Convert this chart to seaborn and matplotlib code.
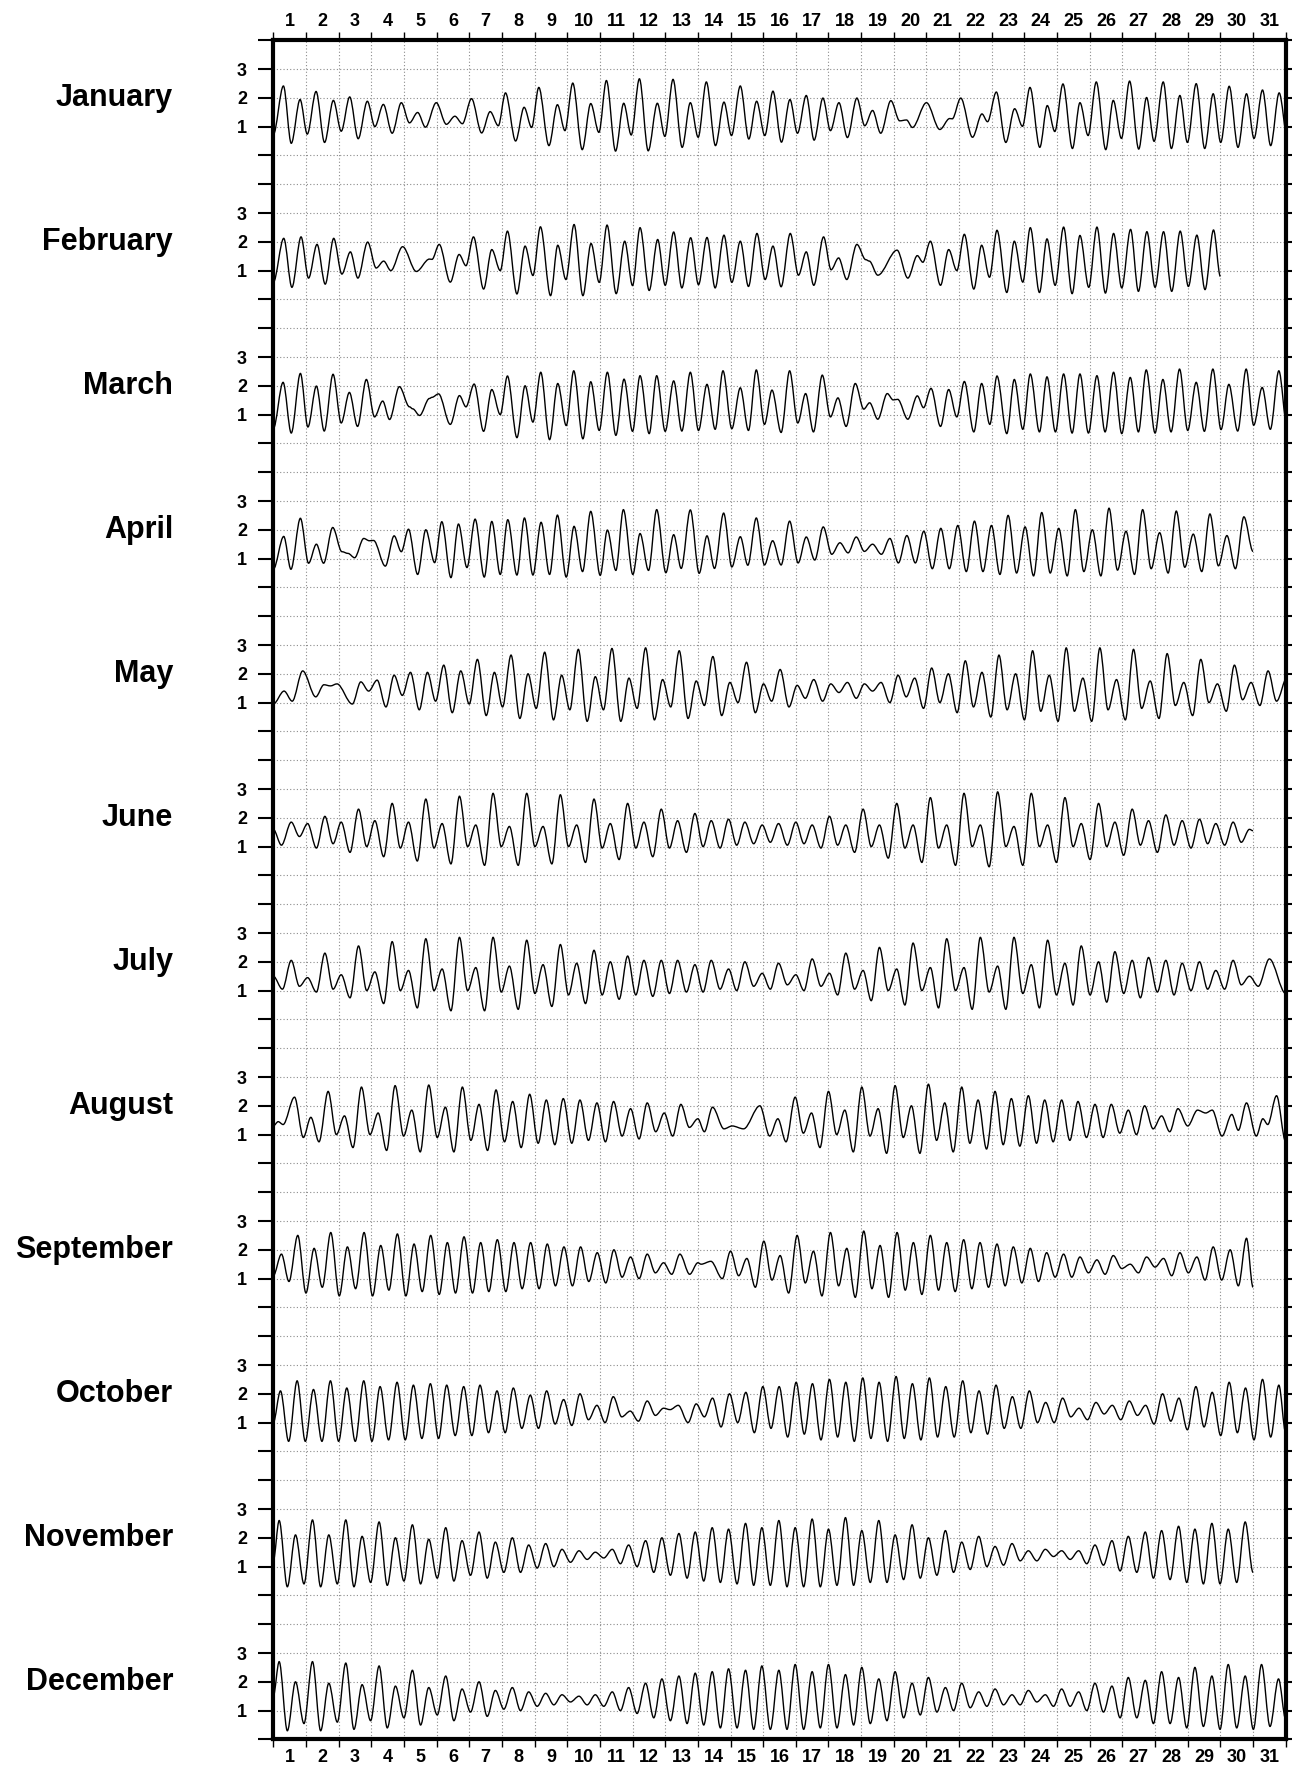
import numpy as np
import matplotlib
matplotlib.use("Agg")
import matplotlib.pyplot as plt
from matplotlib.path import Path
from matplotlib.patches import PathPatch
import matplotlib.transforms as mtransforms
import seaborn as sns

months = ["January", "February", "March", "April", "May", "June",
          "July", "August", "September", "October", "November", "December"]

# tide extremes: time (days from month start), height
jan_t = [0.00, 0.31, 0.55, 0.82, 1.04, 1.31, 1.57, 1.84, 2.08, 2.34, 2.60,
         2.88, 3.11, 3.37, 3.64, 3.92, 4.17, 4.42, 4.66, 4.99, 5.30,
         5.56, 5.79, 6.07, 6.38, 6.64, 6.89, 7.11, 7.42, 7.68, 7.91,
         8.13, 8.44, 8.70, 8.93, 9.17, 9.46, 9.72, 9.97, 10.20, 10.48,
         10.73, 10.96, 11.21, 11.48, 11.76, 11.99, 12.24, 12.52, 12.77, 13.01,
         13.26, 13.54, 13.80, 14.03, 14.30, 14.56, 14.80, 15.05, 15.30, 15.56,
         15.82, 16.05, 16.32, 16.56, 16.83, 17.06, 17.32, 17.58, 17.87, 18.11,
         18.35, 18.60, 18.91, 19.18, 19.39, 19.57, 20.00, 20.41, 20.71, 20.79,
         21.05, 21.41, 21.70, 21.87, 22.14, 22.43, 22.70, 22.94, 23.17, 23.47,
         23.70, 23.93, 24.18, 24.47, 24.70, 24.95, 25.20, 25.49, 25.72, 25.97,
         26.22, 26.50, 26.74, 26.97, 27.25, 27.50, 27.76, 27.99, 28.26, 28.52,
         28.78, 29.01, 29.27, 29.54, 29.80, 30.03, 30.29, 30.54, 30.80, 31.06]
jan_h = [0.72, 2.41, 0.42, 1.94, 0.74, 2.22, 0.45, 1.91, 0.84, 2.03, 0.58,
         1.88, 1.00, 1.77, 0.77, 1.83, 1.13, 1.49, 0.98, 1.83, 1.08,
         1.36, 1.10, 1.97, 0.78, 1.52, 1.03, 2.17, 0.50, 1.67, 0.97,
         2.36, 0.34, 1.76, 0.86, 2.51, 0.20, 1.80, 0.80, 2.60, 0.15,
         1.81, 0.71, 2.66, 0.16, 1.81, 0.66, 2.64, 0.28, 1.83, 0.63,
         2.55, 0.34, 1.85, 0.69, 2.41, 0.57, 1.88, 0.69, 2.23, 0.46,
         1.94, 0.77, 2.08, 0.53, 1.99, 0.86, 1.83, 0.62, 1.99, 1.03,
         1.56, 0.77, 1.90, 1.20, 1.23, 0.97, 1.83, 0.90, 1.28, 1.27,
         1.99, 0.63, 1.44, 1.17, 2.20, 0.45, 1.62, 1.01, 2.36, 0.28,
         1.73, 0.83, 2.48, 0.24, 1.83, 0.69, 2.55, 0.20, 1.91, 0.59,
         2.58, 0.22, 2.01, 0.49, 2.55, 0.24, 2.08, 0.45, 2.49, 0.24,
         2.14, 0.45, 2.40, 0.28, 2.14, 0.59, 2.27, 0.34, 2.17, 0.55]

feb_t = [0.00, 0.32, 0.57, 0.85, 1.08, 1.34, 1.59, 1.85, 2.10, 2.36, 2.59,
         2.89, 3.15, 3.38, 3.60, 3.96, 4.38, 4.78, 4.86, 5.08, 5.42,
         5.69, 5.90, 6.13, 6.44, 6.69, 6.95, 7.17, 7.46, 7.71, 7.95,
         8.18, 8.49, 8.71, 8.96, 9.21, 9.48, 9.73, 9.98, 10.22, 10.50,
         10.76, 11.00, 11.23, 11.51, 11.77, 12.00, 12.26, 12.51, 12.78, 13.02,
         13.28, 13.53, 13.80, 14.04, 14.30, 14.55, 14.81, 15.06, 15.30, 15.55,
         15.83, 16.08, 16.32, 16.55, 16.85, 17.08, 17.31, 17.56, 17.87, 18.14,
         18.25, 18.51, 19.10, 19.43, 19.72, 19.89, 20.12, 20.43, 20.68, 20.93,
         21.16, 21.45, 21.69, 21.93, 22.16, 22.46, 22.69, 22.95, 23.18, 23.46,
         23.69, 23.94, 24.20, 24.46, 24.70, 24.97, 25.22, 25.48, 25.73, 25.98,
         26.25, 26.49, 26.75, 27.00, 27.26, 27.51, 27.77, 28.02, 28.28, 28.53,
         28.79, 29.00]
feb_h = [0.59, 2.12, 0.42, 2.17, 0.74, 1.91, 0.53, 2.12, 0.88, 1.65, 0.74,
         1.99, 1.09, 1.33, 1.00, 1.83, 0.97, 1.40, 1.39, 1.91, 0.60,
         1.56, 1.17, 2.17, 0.36, 1.73, 1.00, 2.37, 0.19, 1.85, 0.83,
         2.52, 0.13, 1.88, 0.69, 2.60, 0.13, 1.94, 0.59, 2.58, 0.20,
         2.02, 0.48, 2.49, 0.31, 2.08, 0.49, 2.34, 0.40, 2.14, 0.51,
         2.15, 0.40, 2.23, 0.59, 2.02, 0.45, 2.29, 0.69, 1.85, 0.44,
         2.29, 0.84, 1.65, 0.49, 2.17, 1.03, 1.44, 0.69, 1.91, 1.38,
         1.33, 0.84, 1.71, 0.74, 1.52, 1.29, 2.02, 0.49, 1.73, 1.00,
         2.26, 0.36, 1.88, 0.77, 2.40, 0.24, 2.02, 0.60, 2.49, 0.24,
         2.10, 0.49, 2.51, 0.20, 2.22, 0.42, 2.51, 0.22, 2.29, 0.40,
         2.43, 0.28, 2.35, 0.42, 2.35, 0.28, 2.37, 0.45, 2.23, 0.34,
         2.41, 0.80]

mar_t = [0.00, 0.30, 0.55, 0.83, 1.06, 1.32, 1.56, 1.83, 2.08, 2.33, 2.58,
         2.85, 3.10, 3.35, 3.56, 3.86, 4.17, 4.27, 4.48, 4.78, 4.86,
         5.06, 5.42, 5.70, 5.90, 6.15, 6.44, 6.69, 6.95, 7.17, 7.46,
         7.71, 7.95, 8.19, 8.46, 8.71, 8.97, 9.20, 9.48, 9.72, 9.98,
         10.23, 10.49, 10.74, 11.00, 11.23, 11.51, 11.74, 12.00, 12.26, 12.51,
         12.77, 13.02, 13.28, 13.53, 13.77, 14.04, 14.30, 14.55, 14.79, 15.04,
         15.27, 15.55, 15.81, 16.06, 16.30, 16.54, 16.81, 17.06, 17.29, 17.54,
         17.82, 18.08, 18.26, 18.51, 18.80, 18.98, 19.12, 19.43, 19.72, 19.91,
         20.14, 20.43, 20.68, 20.93, 21.16, 21.45, 21.69, 21.94, 22.16, 22.46,
         22.69, 22.95, 23.18, 23.46, 23.69, 23.95, 24.20, 24.46, 24.70, 24.96,
         25.22, 25.47, 25.73, 25.98, 26.24, 26.49, 26.73, 27.00, 27.24, 27.49,
         27.75, 28.00, 28.26, 28.51, 28.77, 29.02, 29.26, 29.53, 29.79, 30.02,
         30.28, 30.53, 30.79, 31.04]
mar_h = [0.51, 2.12, 0.36, 2.43, 0.57, 1.99, 0.43, 2.40, 0.71, 1.77, 0.59,
         2.22, 0.92, 1.47, 0.83, 1.97, 1.27, 1.20, 0.97, 1.56, 1.60,
         1.72, 0.66, 1.66, 1.27, 2.06, 0.42, 1.87, 1.00, 2.34, 0.20,
         2.00, 0.74, 2.47, 0.13, 2.08, 0.62, 2.52, 0.16, 2.14, 0.45,
         2.47, 0.28, 2.23, 0.42, 2.35, 0.34, 2.35, 0.42, 2.17, 0.43,
         2.47, 0.45, 2.05, 0.49, 2.52, 0.51, 1.93, 0.45, 2.55, 0.66,
         1.85, 0.38, 2.52, 0.71, 1.73, 0.40, 2.37, 0.92, 1.58, 0.59,
         2.08, 1.19, 1.41, 0.84, 1.73, 1.51, 1.53, 0.84, 1.65, 1.24,
         1.91, 0.59, 1.87, 0.92, 2.15, 0.40, 2.08, 0.66, 2.34, 0.34,
         2.22, 0.49, 2.41, 0.40, 2.31, 0.40, 2.41, 0.36, 2.41, 0.36,
         2.35, 0.40, 2.47, 0.34, 2.29, 0.40, 2.55, 0.36, 2.22, 0.40,
         2.58, 0.45, 2.12, 0.42, 2.58, 0.48, 2.05, 0.43, 2.58, 0.63,
         1.94, 0.49, 2.52, 0.60]

apr_t = [0.00, 0.32, 0.54, 0.83, 1.08, 1.32, 1.54, 1.82, 2.10, 2.29, 2.49,
         2.77, 2.94, 3.07, 3.43, 3.70, 3.92, 4.14, 4.42, 4.67, 4.94,
         5.16, 5.44, 5.67, 5.93, 6.18, 6.46, 6.69, 6.95, 7.18, 7.46,
         7.69, 7.95, 8.20, 8.46, 8.70, 8.97, 9.21, 9.47, 9.72, 10.01,
         10.23, 10.49, 10.72, 11.01, 11.23, 11.49, 11.74, 12.02, 12.26, 12.49,
         12.77, 13.04, 13.28, 13.51, 13.79, 14.04, 14.30, 14.53, 14.79, 15.04,
         15.29, 15.55,
         15.81, 16.07, 16.32, 16.58, 16.84, 17.10, 17.35, 17.60, 17.85, 18.10,
         18.35, 18.62, 18.88, 19.14, 19.40, 19.66, 19.92, 20.18, 20.44, 20.70,
         20.96, 21.22, 21.47, 21.73, 21.99, 22.25, 22.50, 22.76, 23.02, 23.28,
         23.53, 23.79, 24.05, 24.31, 24.56, 24.82, 25.08, 25.34, 25.59, 25.85,
         26.11, 26.37, 26.62, 26.88, 27.14, 27.40, 27.65, 27.91, 28.17, 28.43,
         28.68, 28.94, 29.20, 29.46, 29.72, 30.00]
apr_h = [0.63, 1.77, 0.63, 2.40, 0.84, 1.50, 0.84, 2.08, 1.24, 1.18, 1.03,
         1.70, 1.62, 1.63, 0.74, 1.79, 1.24, 2.02, 0.45, 2.00, 0.86,
         2.28, 0.34, 2.20, 0.69, 2.37, 0.36, 2.29, 0.45, 2.35, 0.43,
         2.41, 0.43, 2.26, 0.45, 2.51, 0.36, 2.12, 0.55, 2.64, 0.42,
         1.99, 0.59, 2.70, 0.45, 1.87, 0.59, 2.70, 0.51, 1.83, 0.66,
         2.69, 0.49, 1.79, 0.66, 2.58, 0.71, 1.76, 0.77, 2.41, 0.78,
         1.62, 0.78,
         2.30, 0.85, 1.75, 0.95, 2.10, 1.15, 1.55, 1.20, 1.75, 1.25,
         1.50, 1.15, 1.70, 0.85, 1.80, 0.85, 1.95, 0.65, 2.05, 0.65,
         2.15, 0.55, 2.30, 0.55, 2.15, 0.45, 2.50, 0.50, 2.10, 0.40,
         2.60, 0.50, 2.05, 0.40, 2.70, 0.55, 2.00, 0.40, 2.75, 0.60,
         1.95, 0.45, 2.70, 0.65, 1.90, 0.50, 2.65, 0.70, 1.85, 0.55,
         2.55, 0.75, 1.80, 0.65, 2.45, 1.25]

may_t = [0.00, 0.33, 0.58, 0.90, 1.30, 1.55, 1.75, 1.95, 2.42, 2.68,
         2.92, 3.18, 3.45, 3.70, 3.95, 4.20, 4.47, 4.72, 4.97, 5.22,
         5.48, 5.74, 6.00, 6.25, 6.52, 6.77, 7.02, 7.28, 7.55, 7.80,
         8.05, 8.31, 8.58, 8.83, 9.08, 9.34, 9.61, 9.86, 10.11, 10.37,
         10.64, 10.89, 11.14, 11.40, 11.67, 11.92, 12.17, 12.43, 12.70, 12.95,
         13.20, 13.46, 13.73, 13.98, 14.23, 14.49, 14.76, 15.01, 15.26, 15.52,
         15.79, 16.04, 16.29, 16.55, 16.82, 17.07, 17.32, 17.58, 17.85, 18.10,
         18.35, 18.61, 18.88, 19.13, 19.38, 19.64, 19.91, 20.16, 20.41, 20.67,
         20.94, 21.19, 21.44, 21.70, 21.97, 22.22, 22.47, 22.73, 23.00, 23.25,
         23.50, 23.76, 24.03, 24.28, 24.53, 24.79, 25.06, 25.31, 25.56, 25.82,
         26.09, 26.34, 26.59, 26.85, 27.12, 27.37, 27.62, 27.88, 28.15, 28.40,
         28.65, 28.91, 29.18, 29.43, 29.68, 29.94, 30.21, 30.46, 30.72, 31.05]
may_h = [0.95, 1.40, 1.05, 2.10, 1.20, 1.62, 1.58, 1.65, 0.95, 1.72,
         1.40, 1.78, 0.85, 1.95, 1.25, 2.05, 0.75, 2.05, 1.05, 2.30,
         0.65, 2.10, 0.95, 2.50, 0.55, 2.05, 0.85, 2.65, 0.45, 2.00,
         0.80, 2.75, 0.40, 1.95, 0.75, 2.85, 0.35, 1.90, 0.75, 2.88,
         0.35, 1.85, 0.80, 2.90, 0.40, 1.80, 0.85, 2.80, 0.45, 1.75,
         0.90, 2.60, 0.55, 1.70, 1.00, 2.40, 0.65, 1.65, 1.05, 2.15,
         0.85, 1.60, 1.15, 1.80, 1.05, 1.65, 1.35, 1.70, 1.15, 1.65,
         1.40, 1.70, 1.00, 1.95, 1.20, 1.85, 0.80, 2.20, 1.00, 2.00,
         0.65, 2.45, 0.85, 2.05, 0.50, 2.65, 0.75, 2.00, 0.40, 2.80,
         0.70, 1.95, 0.35, 2.90, 0.70, 1.85, 0.35, 2.90, 0.75, 1.80,
         0.40, 2.85, 0.80, 1.75, 0.45, 2.70, 0.90, 1.70, 0.55, 2.50,
         1.00, 1.65, 0.70, 2.30, 1.10, 1.70, 0.90, 2.10, 1.05, 1.90]

jun_t = [0.00, 0.25, 0.55, 0.80, 1.05, 1.32, 1.58, 1.83, 2.08, 2.35,
         2.61, 2.86, 3.11, 3.38, 3.64, 3.89, 4.14, 4.41, 4.67, 4.92,
         5.17, 5.44, 5.70, 5.95, 6.20, 6.47, 6.73, 6.98, 7.23, 7.50,
         7.76, 8.01, 8.26, 8.53, 8.79, 9.04, 9.29, 9.56, 9.82, 10.07,
         10.32, 10.59, 10.85, 11.10, 11.35, 11.62, 11.88, 12.13, 12.38, 12.65,
         12.91, 13.16, 13.41, 13.68, 13.94, 14.19, 14.44, 14.71, 14.97, 15.22,
         15.47, 15.74, 16.00, 16.25, 16.50, 16.77, 17.03, 17.28, 17.53, 17.80,
         18.06, 18.31, 18.56, 18.83, 19.09, 19.34, 19.59, 19.86, 20.12, 20.37,
         20.62, 20.89, 21.15, 21.40, 21.65, 21.92, 22.18, 22.43, 22.68, 22.95,
         23.21, 23.46, 23.71, 23.98, 24.24, 24.49, 24.74, 25.01, 25.27, 25.52,
         25.77, 26.04, 26.30, 26.55, 26.80, 27.07, 27.33, 27.58, 27.83, 28.10,
         28.36, 28.61, 28.86, 29.13, 29.39, 29.64, 29.89, 30.00]
jun_h = [1.60, 1.05, 1.85, 1.35, 1.80, 0.95, 2.05, 1.10, 1.85, 0.80,
         2.30, 1.00, 1.90, 0.65, 2.50, 0.95, 1.85, 0.50, 2.65, 0.95,
         1.80, 0.40, 2.75, 1.00, 1.75, 0.35, 2.85, 1.00, 1.70, 0.35,
         2.85, 1.00, 1.70, 0.40, 2.80, 1.00, 1.75, 0.45, 2.65, 0.95,
         1.80, 0.55, 2.50, 0.95, 1.85, 0.65, 2.30, 0.95, 1.90, 0.80,
         2.15, 1.00, 1.90, 0.95, 1.95, 1.05, 1.85, 1.10, 1.75, 1.15,
         1.80, 1.05, 1.85, 1.10, 1.75, 0.95, 2.05, 1.05, 1.75, 0.80,
         2.30, 1.00, 1.75, 0.60, 2.50, 0.95, 1.75, 0.45, 2.70, 0.95,
         1.75, 0.35, 2.85, 1.00, 1.75, 0.30, 2.90, 1.00, 1.70, 0.35,
         2.85, 1.00, 1.75, 0.45, 2.70, 1.00, 1.80, 0.55, 2.50, 1.00,
         1.85, 0.70, 2.30, 1.05, 1.90, 0.80, 2.10, 1.05, 1.90, 0.95,
         1.95, 1.10, 1.80, 1.05, 1.85, 1.15, 1.60, 1.55]

jul_t = [0.00, 0.28, 0.55, 0.80, 1.05, 1.32, 1.58, 1.83, 2.08, 2.35,
         2.61, 2.86, 3.11, 3.38, 3.64, 3.89, 4.14, 4.41, 4.67, 4.92,
         5.17, 5.44, 5.70, 5.95, 6.20, 6.47, 6.73, 6.98, 7.23, 7.50,
         7.76, 8.01, 8.26, 8.53, 8.79, 9.04, 9.29, 9.56, 9.82, 10.07,
         10.32, 10.59, 10.85, 11.10, 11.35, 11.62, 11.88, 12.13, 12.38, 12.65,
         12.91, 13.16, 13.41, 13.68, 13.94, 14.19, 14.44, 14.71, 14.97, 15.22,
         15.47, 15.74, 16.00, 16.25, 16.50, 16.77, 17.03, 17.28, 17.53, 17.80,
         18.06, 18.31, 18.56, 18.83, 19.09, 19.34, 19.59, 19.86, 20.12, 20.37,
         20.62, 20.89, 21.15, 21.40, 21.65, 21.92, 22.18, 22.43, 22.68, 22.95,
         23.21, 23.46, 23.71, 23.98, 24.24, 24.49, 24.74, 25.01, 25.27, 25.52,
         25.77, 26.04, 26.30, 26.55, 26.80, 27.07, 27.33, 27.58, 27.83, 28.10,
         28.36, 28.61, 28.86, 29.13, 29.39, 29.64, 29.89, 30.16, 30.50, 31.00]
jul_h = [1.50, 1.05, 2.05, 1.15, 1.45, 0.95, 2.30, 1.05, 1.55, 0.75,
         2.55, 1.00, 1.65, 0.55, 2.70, 1.00, 1.70, 0.40, 2.80, 1.00,
         1.75, 0.30, 2.85, 1.00, 1.80, 0.30, 2.85, 0.95, 1.85, 0.35,
         2.75, 0.90, 1.90, 0.45, 2.60, 0.85, 1.95, 0.55, 2.40, 0.85,
         2.00, 0.70, 2.20, 0.85, 2.05, 0.80, 2.05, 0.90, 2.05, 0.95,
         1.90, 0.95, 2.05, 1.05, 1.75, 1.00, 2.00, 1.15, 1.60, 1.05,
         1.95, 1.20, 1.55, 1.00, 2.10, 1.15, 1.60, 0.85, 2.30, 1.05,
         1.70, 0.65, 2.50, 1.00, 1.75, 0.50, 2.65, 1.00, 1.80, 0.40,
         2.80, 1.00, 1.80, 0.35, 2.85, 0.95, 1.85, 0.35, 2.85, 0.90,
         1.90, 0.40, 2.75, 0.85, 1.95, 0.50, 2.55, 0.85, 2.00, 0.60,
         2.35, 0.90, 2.05, 0.75, 2.15, 0.95, 2.05, 0.85, 1.95, 1.00,
         2.00, 1.05, 1.70, 1.05, 2.05, 1.20, 1.50, 1.15, 2.10, 0.90]

aug_t = [0.00, 0.15, 0.30, 0.65, 0.92, 1.15, 1.40, 1.68, 1.93, 2.18,
         2.44, 2.70, 2.96, 3.21, 3.47, 3.73, 3.99, 4.24, 4.50, 4.76,
         5.02, 5.27, 5.53, 5.79, 6.05, 6.30, 6.56, 6.82, 7.08, 7.33,
         7.59, 7.85, 8.11, 8.36, 8.62, 8.88, 9.14, 9.39, 9.65, 9.91,
         10.17, 10.42, 10.68, 10.94, 11.20, 11.45, 11.71, 11.97, 12.23, 12.48,
         12.74, 13.00, 13.20, 13.45, 13.80, 14.05, 14.40, 14.90, 15.20, 15.45,
         15.70, 15.98, 16.23, 16.48, 16.74, 17.00, 17.25, 17.50, 17.76, 18.02,
         18.27, 18.52, 18.78, 19.04, 19.29, 19.54, 19.80, 20.06, 20.31, 20.56,
         20.82, 21.08, 21.33, 21.58, 21.84, 22.10, 22.35, 22.60, 22.86, 23.12,
         23.37, 23.62, 23.88, 24.14, 24.39, 24.64, 24.90, 25.16, 25.41, 25.66,
         25.92, 26.18, 26.43, 26.68, 26.94, 27.20, 27.45, 27.70, 28.00, 28.30,
         28.55, 28.75, 29.05, 29.35, 29.55, 29.80, 30.10, 30.30, 30.45, 30.72,
         31.00]
aug_h = [1.30, 1.45, 1.35, 2.30, 0.90, 1.60, 0.75, 2.50, 1.00, 1.65,
         0.55, 2.65, 1.00, 1.75, 0.45, 2.70, 0.95, 1.85, 0.40, 2.72,
         0.90, 1.95, 0.40, 2.65, 0.80, 2.05, 0.45, 2.55, 0.75, 2.15,
         0.55, 2.40, 0.70, 2.20, 0.65, 2.25, 0.70, 2.20, 0.80, 2.10,
         0.75, 2.15, 0.95, 1.90, 0.85, 2.10, 1.10, 1.75, 0.95, 2.05,
         1.25, 1.55, 1.10, 1.95, 1.20, 1.30, 1.20, 2.00, 0.95, 1.55,
         0.75, 2.30, 1.05, 1.75, 0.55, 2.50, 1.00, 1.85, 0.40, 2.65,
         0.95, 1.90, 0.35, 2.70, 0.90, 2.00, 0.35, 2.75, 0.80, 2.10,
         0.40, 2.65, 0.70, 2.20, 0.50, 2.50, 0.65, 2.25, 0.60, 2.35,
         0.70, 2.20, 0.75, 2.20, 0.80, 2.15, 0.90, 2.05, 0.90, 2.05,
         1.05, 1.85, 1.00, 2.00, 1.20, 1.65, 1.10, 1.90, 1.30, 1.85,
         1.75, 1.85, 0.95, 1.70, 1.15, 2.10, 0.95, 1.55, 1.35, 2.35,
         0.75]

sep_t = [0.00, 0.25, 0.48, 0.75, 1.00, 1.25, 1.50, 1.76, 2.02, 2.27,
         2.52, 2.78, 3.04, 3.29, 3.54, 3.80, 4.06, 4.31, 4.56, 4.82,
         5.08, 5.33, 5.58, 5.84, 6.10, 6.35, 6.60, 6.86, 7.12, 7.37,
         7.62, 7.88, 8.14, 8.39, 8.64, 8.90, 9.16, 9.41, 9.66, 9.92,
         10.18, 10.43, 10.68, 10.94, 11.20, 11.45, 11.70, 11.95, 12.20, 12.45,
         12.75, 13.00, 13.10, 13.40, 13.75, 14.00, 14.25, 14.50, 14.76, 15.02,
         15.27, 15.52, 15.78, 16.04, 16.29, 16.54, 16.80, 17.06, 17.31, 17.56,
         17.82, 18.08, 18.33, 18.58, 18.84, 19.10, 19.35, 19.60, 19.86, 20.12,
         20.37, 20.62, 20.88, 21.14, 21.39, 21.64, 21.90, 22.16, 22.41, 22.66,
         22.92, 23.18, 23.43, 23.68, 23.94, 24.20, 24.45, 24.70, 24.96, 25.22,
         25.47, 25.72, 25.98, 26.24, 26.49, 26.74, 27.00, 27.26, 27.51, 27.76,
         28.02, 28.28, 28.53, 28.78, 29.04, 29.30, 29.55, 29.80, 30.00]
sep_h = [1.10, 1.85, 0.90, 2.50, 0.50, 2.05, 0.70, 2.60, 0.40, 2.10,
         0.65, 2.60, 0.40, 2.15, 0.60, 2.55, 0.40, 2.20, 0.55, 2.50,
         0.45, 2.25, 0.50, 2.45, 0.50, 2.25, 0.55, 2.35, 0.55, 2.25,
         0.65, 2.25, 0.65, 2.20, 0.75, 2.10, 0.75, 2.10, 0.90, 1.90,
         0.85, 2.00, 1.05, 1.75, 1.00, 1.85, 1.20, 1.55, 1.15, 1.85,
         1.15, 1.55, 1.50, 1.60, 1.00, 1.95, 1.10, 1.70, 0.70, 2.30,
         0.95, 1.80, 0.50, 2.50, 0.85, 1.95, 0.40, 2.60, 0.75, 2.05,
         0.35, 2.65, 0.65, 2.15, 0.35, 2.60, 0.60, 2.25, 0.45, 2.50,
         0.60, 2.25, 0.55, 2.35, 0.65, 2.25, 0.70, 2.20, 0.75, 2.10,
         0.85, 2.05, 0.90, 1.90, 1.05, 1.85, 1.05, 1.75, 1.20, 1.65,
         1.15, 1.80, 1.35, 1.50, 1.20, 1.75, 1.40, 1.70, 1.10, 1.90,
         1.20, 1.75, 0.95, 2.10, 0.95, 2.00, 0.75, 2.40, 0.70]

oct_t = [0.00, 0.22, 0.47, 0.73, 0.98, 1.23, 1.49, 1.75, 2.00, 2.25,
         2.51, 2.77, 3.02, 3.27, 3.53, 3.79, 4.04, 4.29, 4.55, 4.81,
         5.06, 5.31, 5.57, 5.83, 6.08, 6.33, 6.59, 6.85, 7.10, 7.35,
         7.61, 7.87, 8.12, 8.37, 8.63, 8.89, 9.14, 9.39, 9.65, 9.91,
         10.16, 10.41, 10.67, 10.93, 11.18, 11.45, 11.70, 11.95, 12.15, 12.40,
         12.70, 12.95, 13.20, 13.45, 13.71, 13.97, 14.22, 14.47, 14.73, 14.99,
         15.24, 15.49, 15.75, 16.01, 16.26, 16.51, 16.77, 17.03, 17.28, 17.53,
         17.79, 18.05, 18.30, 18.55, 18.81, 19.07, 19.32, 19.57, 19.83, 20.09,
         20.34, 20.59, 20.85, 21.11, 21.36, 21.61, 21.87, 22.13, 22.38, 22.63,
         22.89, 23.15, 23.40, 23.65, 23.91, 24.17, 24.42, 24.67, 24.93, 25.19,
         25.44, 25.69, 25.95, 26.21, 26.46, 26.71, 26.97, 27.23, 27.48, 27.73,
         27.99, 28.25, 28.50, 28.75, 29.01, 29.27, 29.52, 29.77, 30.03, 30.29,
         30.54, 30.79, 31.00]
oct_h = [1.00, 2.10, 0.35, 2.45, 0.35, 2.15, 0.35, 2.45, 0.35, 2.20,
         0.35, 2.45, 0.35, 2.25, 0.40, 2.40, 0.40, 2.30, 0.45, 2.35,
         0.45, 2.30, 0.55, 2.25, 0.55, 2.30, 0.65, 2.10, 0.65, 2.20,
         0.80, 1.95, 0.80, 2.10, 0.95, 1.80, 0.90, 2.00, 1.10, 1.60,
         1.00, 1.90, 1.20, 1.40, 1.05, 1.75, 1.25, 1.50, 1.45, 1.60,
         1.00, 1.65, 1.20, 1.85, 0.85, 2.00, 1.00, 2.05, 0.65, 2.25,
         0.80, 2.25, 0.50, 2.40, 0.60, 2.35, 0.40, 2.50, 0.50, 2.40,
         0.35, 2.55, 0.45, 2.40, 0.35, 2.60, 0.45, 2.35, 0.40, 2.55,
         0.50, 2.25, 0.50, 2.45, 0.65, 2.10, 0.60, 2.30, 0.80, 1.90,
         0.80, 2.10, 1.00, 1.70, 1.00, 1.85, 1.20, 1.50, 1.10, 1.70,
         1.30, 1.60, 1.10, 1.75, 1.25, 1.60, 0.95, 2.00, 1.05, 1.85,
         0.75, 2.25, 0.85, 2.05, 0.55, 2.40, 0.65, 2.20, 0.40, 2.50,
         0.50, 2.30, 0.65]

nov_t = [0.00, 0.18, 0.43, 0.68, 0.94, 1.20, 1.45, 1.70, 1.96, 2.22,
         2.47, 2.72, 2.98, 3.24, 3.49, 3.74, 4.00, 4.26, 4.51, 4.76,
         5.02, 5.28, 5.53, 5.78, 6.04, 6.30, 6.55, 6.80, 7.06, 7.32,
         7.57, 7.82, 8.08, 8.34, 8.59, 8.84, 9.10, 9.36, 9.61, 9.86,
         10.12, 10.38, 10.63, 10.88, 11.14, 11.40, 11.65, 11.90, 12.16, 12.42,
         12.67, 12.92, 13.18, 13.44, 13.69, 13.94, 14.20, 14.46, 14.71, 14.96,
         15.22, 15.48, 15.73, 15.98, 16.24, 16.50, 16.75, 17.00, 17.26, 17.52,
         17.77, 18.02, 18.28, 18.54, 18.79, 19.04, 19.30, 19.56, 19.81, 20.06,
         20.32, 20.58, 20.83, 21.08, 21.34, 21.60, 21.85, 22.10, 22.36, 22.62,
         22.87, 23.12, 23.38, 23.64, 23.89, 24.14, 24.40, 24.66, 24.91, 25.16,
         25.42, 25.68, 25.93, 26.18, 26.44, 26.70, 26.95, 27.20, 27.46, 27.72,
         27.97, 28.22, 28.48, 28.74, 28.99, 29.24, 29.50, 29.76, 30.00]
nov_h = [1.20, 2.60, 0.30, 2.10, 0.40, 2.62, 0.30, 2.10, 0.40, 2.62,
         0.30, 2.05, 0.45, 2.55, 0.35, 2.00, 0.50, 2.45, 0.40, 1.95,
         0.60, 2.35, 0.50, 1.90, 0.70, 2.20, 0.60, 1.85, 0.80, 2.00,
         0.80, 1.75, 0.95, 1.80, 1.00, 1.60, 1.15, 1.55, 1.25, 1.50,
         1.30, 1.60, 1.10, 1.75, 1.00, 1.90, 0.80, 2.00, 0.70, 2.15,
         0.60, 2.20, 0.50, 2.35, 0.45, 2.30, 0.40, 2.50, 0.35, 2.35,
         0.35, 2.60, 0.30, 2.35, 0.30, 2.65, 0.30, 2.30, 0.35, 2.70,
         0.35, 2.25, 0.45, 2.60, 0.45, 2.10, 0.55, 2.45, 0.60, 2.00,
         0.70, 2.25, 0.80, 1.85, 0.90, 2.05, 1.00, 1.70, 1.05, 1.80,
         1.20, 1.55, 1.20, 1.60, 1.35, 1.55, 1.25, 1.55, 1.10, 1.75,
         1.05, 1.90, 0.85, 2.05, 0.80, 2.20, 0.60, 2.25, 0.55, 2.40,
         0.45, 2.30, 0.40, 2.50, 0.40, 2.30, 0.45, 2.55, 0.80]

dec_t = [0.00, 0.18, 0.43, 0.68, 0.94, 1.20, 1.45, 1.70, 1.96, 2.22,
         2.47, 2.72, 2.98, 3.24, 3.49, 3.74, 4.00, 4.26, 4.51, 4.76,
         5.02, 5.28, 5.53, 5.78, 6.04, 6.30, 6.55, 6.80, 7.06, 7.32,
         7.57, 7.82, 8.08, 8.34, 8.59, 8.84, 9.10, 9.36, 9.61, 9.86,
         10.12, 10.38, 10.63, 10.88, 11.14, 11.40, 11.65, 11.90, 12.16, 12.42,
         12.67, 12.92, 13.18, 13.44, 13.69, 13.94, 14.20, 14.46, 14.71, 14.96,
         15.22, 15.48, 15.73, 15.98, 16.24, 16.50, 16.75, 17.00, 17.26, 17.52,
         17.77, 18.02, 18.28, 18.54, 18.79, 19.04, 19.30, 19.56, 19.81, 20.06,
         20.32, 20.58, 20.83, 21.08, 21.34, 21.60, 21.85, 22.10, 22.36, 22.62,
         22.87, 23.12, 23.38, 23.64, 23.89, 24.14, 24.40, 24.66, 24.91, 25.16,
         25.42, 25.68, 25.93, 26.18, 26.44, 26.70, 26.95, 27.20, 27.46, 27.72,
         27.97, 28.22, 28.48, 28.74, 28.99, 29.24, 29.50, 29.76, 30.01, 30.26,
         30.52, 30.78, 31.00]
dec_h = [1.50, 2.70, 0.30, 2.00, 0.55, 2.70, 0.30, 1.95, 0.60, 2.65,
         0.35, 1.90, 0.65, 2.55, 0.40, 1.85, 0.75, 2.40, 0.50, 1.80,
         0.85, 2.20, 0.65, 1.75, 0.95, 2.00, 0.80, 1.70, 1.05, 1.80,
         1.00, 1.65, 1.15, 1.60, 1.20, 1.55, 1.30, 1.50, 1.20, 1.55,
         1.15, 1.65, 1.00, 1.80, 0.90, 1.95, 0.75, 2.10, 0.65, 2.20,
         0.55, 2.30, 0.50, 2.35, 0.40, 2.45, 0.40, 2.40, 0.35, 2.55,
         0.35, 2.40, 0.35, 2.60, 0.35, 2.35, 0.40, 2.60, 0.40, 2.25,
         0.50, 2.50, 0.55, 2.10, 0.65, 2.35, 0.75, 1.95, 0.85, 2.15,
         0.95, 1.80, 1.00, 1.95, 1.10, 1.65, 1.15, 1.75, 1.20, 1.55,
         1.20, 1.70, 1.30, 1.55, 1.15, 1.75, 1.15, 1.65, 1.00, 1.95,
         0.95, 1.85, 0.75, 2.15, 0.75, 2.05, 0.55, 2.35, 0.55, 2.15,
         0.40, 2.50, 0.45, 2.20, 0.35, 2.60, 0.40, 2.20, 0.35, 2.60,
         0.45, 2.10, 0.70]

series = [(jan_t, jan_h), (feb_t, feb_h), (mar_t, mar_h), (apr_t, apr_h),
          (may_t, may_h), (jun_t, jun_h), (jul_t, jul_h), (aug_t, aug_h),
          (sep_t, sep_h), (oct_t, oct_h), (nov_t, nov_h), (dec_t, dec_h)]

ROW = 5  # vertical units per month row


def tide_path(t, h, off):
    # smooth curve through the extremes, flat tangent at each turn
    verts = [(t[0], h[0] + off)]
    codes = [Path.MOVETO]
    for i in range(len(t) - 1):
        dt = t[i + 1] - t[i]
        verts += [(t[i] + dt / 3, h[i] + off),
                  (t[i + 1] - dt / 3, h[i + 1] + off),
                  (t[i + 1], h[i + 1] + off)]
        codes += [Path.CURVE4] * 3
    return Path(verts, codes)


sns.set_theme(style="white")
plt.rcParams['font.family'] = ['Liberation Sans', 'DejaVu Sans']
plt.rcParams.update({'text.color': 'black', 'xtick.color': 'black',
                     'ytick.color': 'black', 'axes.edgecolor': 'black'})

fig = plt.figure(figsize=(13.07, 17.71), dpi=100)
ax = fig.add_axes([0.2091, 0.01784, 0.7746, 0.95946])
ax.set_xlim(0, 31)
ax.set_ylim(-ROW * 11, 4)

for k, (t, h) in enumerate(series):
    n = min(len(t), len(h))
    if n < 2:
        continue
    ax.add_patch(PathPatch(tide_path(t[:n], h[:n], -ROW * k), fill=False,
                           edgecolor='black', lw=1.0, zorder=3))

# grid every day / every unit
yt = np.arange(-ROW * 11, 5)
ax.set_xticks(np.arange(0, 32))
ax.set_yticks(yt)
ax.set_yticklabels([str(v % ROW) if v % ROW in (1, 2, 3) else '' for v in yt],
                   fontweight='bold', fontsize=13)
ax.set_xticklabels([])
ax.set_xticks(np.arange(0.5, 31), minor=True)
ax.set_xticklabels([str(d) for d in range(1, 32)], minor=True,
                   fontweight='bold', fontsize=13)
ax.grid(True, which='major', color='#8c8c8c', linestyle=(0, (1, 2)), lw=0.8)
ax.set_axisbelow(True)

ax.tick_params(axis='x', which='major', direction='out', length=6, width=1.0,
               top=True, bottom=True, color='black')
ax.tick_params(axis='x', which='minor', length=0, top=True, bottom=True,
               labeltop=True, labelbottom=True, pad=7)
ax.tick_params(axis='y', which='major', direction='out', length=11, width=1.5,
               left=True, right=False, pad=8, color='black')

sec = ax.secondary_yaxis('right')
sec.set_yticks(yt)
sec.tick_params(axis='y', direction='out', length=4, width=1.5, labelright=False,
                color='black')
sec.spines['right'].set_visible(False)

for sp in ax.spines.values():
    sp.set_linewidth(3)
    sp.set_color('black')

tr = mtransforms.blended_transform_factory(ax.transAxes, ax.transData)
for k, name in enumerate(months):
    ax.text(-0.099, 2 - ROW * k, name, transform=tr, ha='right', va='center',
            fontsize=22, fontweight='bold', color='black')

fig.savefig("out.png", dpi=100)
